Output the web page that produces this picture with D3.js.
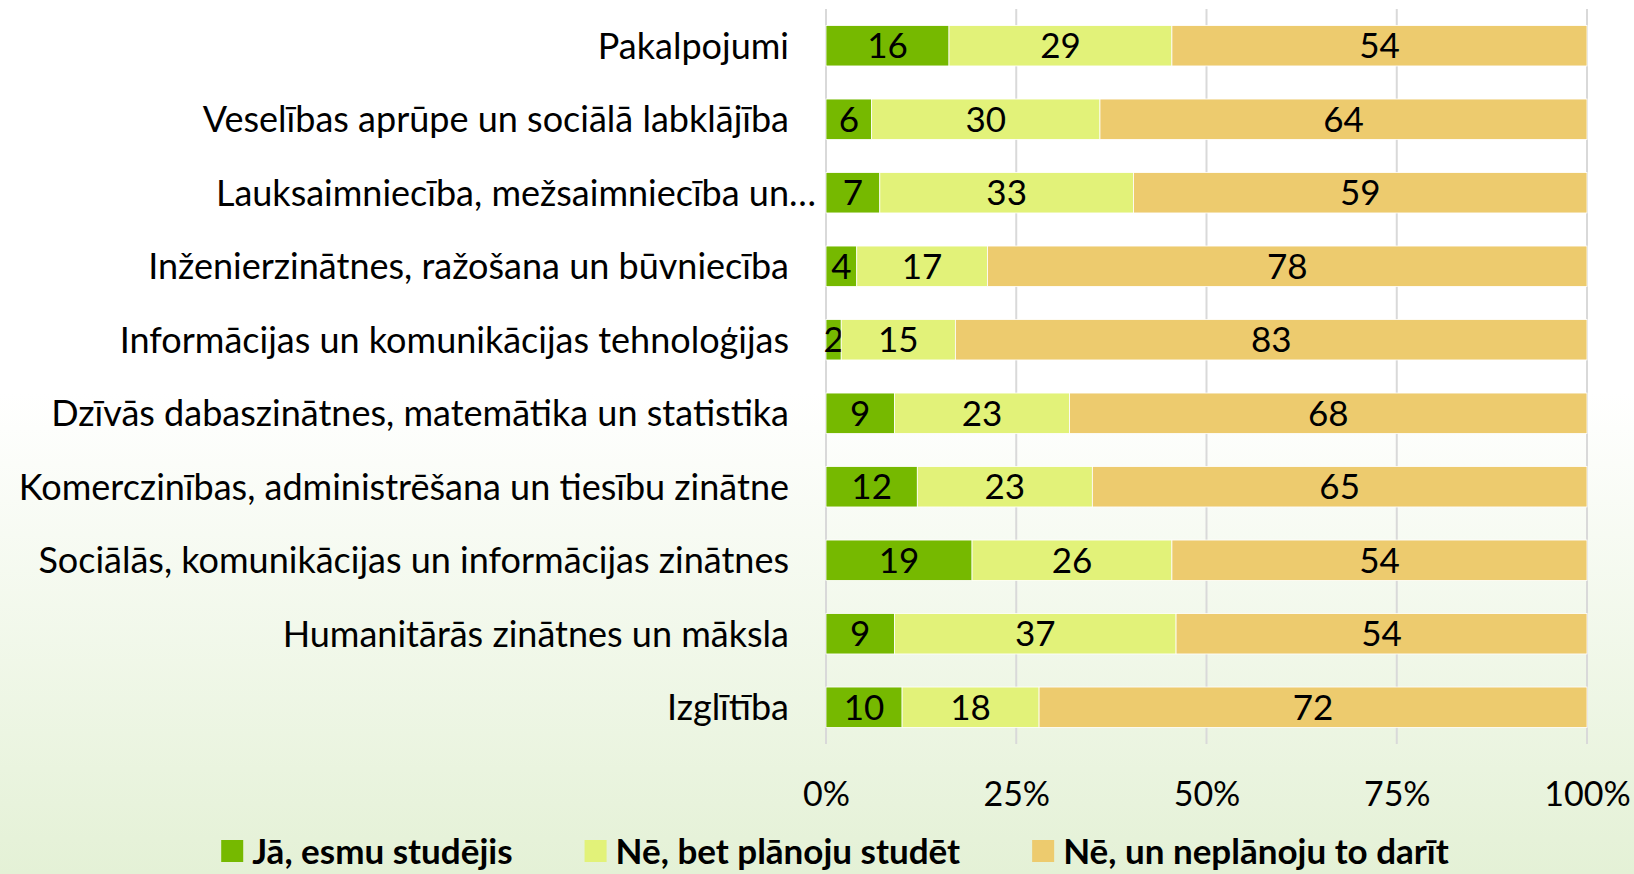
<!DOCTYPE html>
<html>
<head>
<meta charset="utf-8">
<script src="https://cdn.jsdelivr.net/npm/d3@7"></script>
<style>
  html, body { margin: 0; padding: 0; }
  body { width: 1634px; height: 874px; overflow: hidden; }
  svg { display: block; font-family: Lato, "Noto Sans", sans-serif; }
</style>
</head>
<body>
<script>
// categories, top to bottom
const categories = [
  'Pakalpojumi',
  'Veselības aprūpe un sociālā labklājība',
  'Lauksaimniecība, mežsaimniecība un…',
  'Inženierzinātnes, ražošana un būvniecība',
  'Informācijas un komunikācijas tehnoloģijas',
  'Dzīvās dabaszinātnes, matemātika un statistika',
  'Komerczinības, administrēšana un tiesību zinātne',
  'Sociālās, komunikācijas un informācijas zinātnes',
  'Humanitārās zinātnes un māksla',
  'Izglītība'
];
const seriesNames = ['Jā, esmu studējis', 'Nē, bet plānoju studēt', 'Nē, un neplānoju to darīt'];
const studied    = [16, 6, 7, 4, 2, 9, 12, 19, 9, 10];
const planning   = [29, 30, 33, 17, 15, 23, 23, 26, 37, 18];
const notPlanned = [54, 64, 59, 78, 83, 68, 65, 54, 54, 72];
const ticks = [0, 0.25, 0.5, 0.75, 1];
const colors = ['#76b900', '#e2f279', '#edcb6e'];

let width = 1634, height = 874;
let plotLeft = 826, plotRight = 1587, plotTop = 9, plotBottom = 744;

let rows = categories.map((c, i) => ({cat: c, s0: studied[i], s1: planning[i], s2: notPlanned[i]}));
let keys = ['s0', 's1', 's2'];
let stack = d3.stack().keys(keys).offset(d3.stackOffsetExpand)(rows);

let xScale = d3.scaleLinear([0, 1], [plotLeft, plotRight]),
    yScale = d3.scaleBand(categories, [plotTop, plotBottom]).paddingInner(0.45).paddingOuter(0.225),
    color = d3.scaleOrdinal(keys, colors);

let svg = d3.select('body').append('svg').attr('width', width).attr('height', height);

// background fade
let grad = svg.append('defs').append('linearGradient')
    .attr('id', 'bg').attr('x1', 0).attr('x2', 0).attr('y1', 0).attr('y2', 1);
grad.append('stop').attr('offset', '0.45').attr('stop-color', '#ffffff');
grad.append('stop').attr('offset', '1').attr('stop-color', '#e4f1d6');
svg.append('rect').attr('width', width).attr('height', height).style('fill', 'url(#bg)');

// gridlines
svg.append('g').selectAll('line')
    .data(ticks)
    .join('line')
    .attr('x1', d => xScale(d)).attr('x2', d => xScale(d))
    .attr('y1', plotTop).attr('y2', plotBottom)
    .style('stroke', '#d9d9d9')
    .style('stroke-width', '2px');

// bars
let groups = svg.append('g').selectAll('g')
    .data(stack)
    .join('g')
    .style('fill', d => color(d.key));

groups.selectAll('rect')
    .data(d => d)
    .join('rect')
    .attr('x', d => xScale(d[0]))
    .attr('width', d => xScale(d[1]) - xScale(d[0]))
    .attr('y', d => yScale(d.data.cat))
    .attr('height', yScale.bandwidth())
    .style('stroke', '#ffffff')
    .style('stroke-width', '0.8px');

// value labels
groups.selectAll('text')
    .data(d => d.map(v => ({v, key: d.key})))
    .join('text')
    .attr('x', d => (xScale(d.v[0]) + xScale(d.v[1])) / 2)
    .attr('y', d => yScale(d.v.data.cat) + yScale.bandwidth() / 2)
    .attr('dy', '0.36em')
    .attr('text-anchor', 'middle')
    .style('font-size', '35px')
    .style('fill', '#000')
    .text(d => d.v.data[d.key]);

// category axis
let yAxis = svg.append('g').attr('transform', `translate(${plotLeft - 37},0)`)
    .call(d3.axisLeft(yScale).tickSize(0).tickPadding(0));
yAxis.select('.domain').remove();
yAxis.selectAll('text')
    .attr('dy', '0.36em')
    .style('font-size', '36px')
    .style('font-family', 'Lato, "Noto Sans", sans-serif')
    .style('fill', '#000');
// truncated label: ellipsis hangs past the label edge
yAxis.selectAll('text')
    .filter(d => d.endsWith('…'))
    .attr('x', function() {
        let full = this.getComputedTextLength();
        let txt = this.textContent;
        this.textContent = txt.slice(0, -1);
        let cut = this.getComputedTextLength();
        this.textContent = txt;
        return full - cut;
    });

// percent axis
let xAxis = svg.append('g').attr('transform', `translate(0,${plotBottom + 50})`)
    .call(d3.axisBottom(xScale).tickValues(ticks).tickFormat(d3.format('.0%')).tickSize(0).tickPadding(0));
xAxis.select('.domain').remove();
xAxis.selectAll('text')
    .attr('dy', '0.36em')
    .style('font-size', '34px')
    .style('font-family', 'Lato, "Noto Sans", sans-serif')
    .style('fill', '#000');

// legend
let legend = svg.append('g');
let items = legend.selectAll('g')
    .data(seriesNames)
    .join('g');
items.append('rect')
    .attr('width', 22).attr('height', 22)
    .attr('y', -11)
    .style('fill', (d, i) => colors[i]);
items.append('text')
    .attr('x', 31)
    .attr('dy', '0.36em')
    .style('font-size', '35px')
    .style('font-weight', 'bold')
    .style('fill', '#000')
    .text(d => d);

let gap = 72, widths = [];
items.each(function() { widths.push(this.getBBox().width); });
let total = d3.sum(widths) + gap * (widths.length - 1);
let x = 835 - total / 2;
items.attr('transform', (d, i) => {
    let t = `translate(${x},851)`;
    x += widths[i] + gap;
    return t;
});
</script>
</body>
</html>
